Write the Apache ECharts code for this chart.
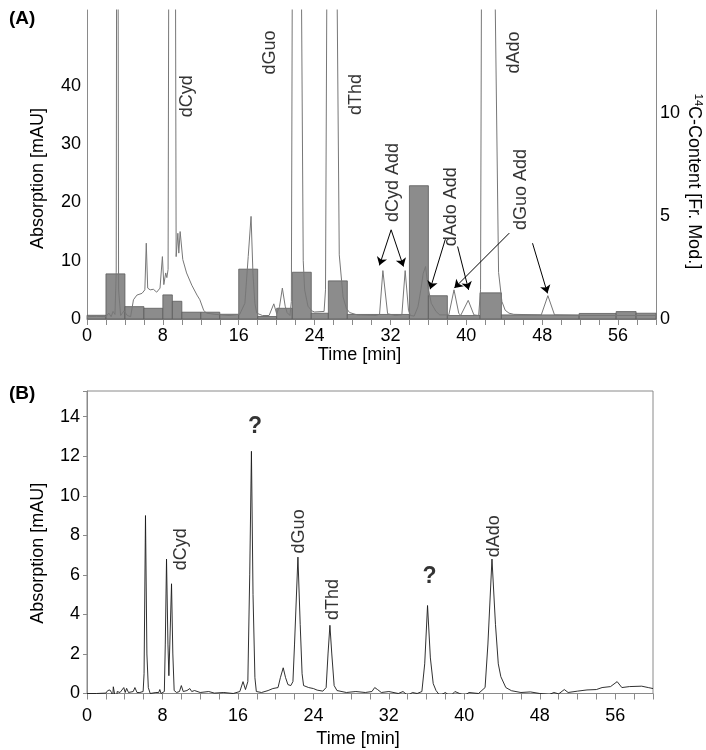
<!DOCTYPE html>
<html><head><meta charset="utf-8">
<script src="https://cdn.jsdelivr.net/npm/echarts/dist/echarts.min.js"></script>
<style>html,body{margin:0;padding:0;background:#fff}#c{width:706px;height:750px}</style>
</head><body><div id="c"></div>
<script>
// ---- Panel A: UV trace (time [min], absorption [mAU]) ----
const traceA = [[0,0.4],[1.0,0.45],[2.0,0.4],[2.3,1.0],[2.55,0.4],[2.75,1.3],[2.95,0.8],[3.08,8],[3.12,60],[3.2,200],[3.28,60],[3.33,5],[3.55,0.6],[3.9,1.4],[4.25,0.6],[4.6,0.4],[4.9,3.3],[5.26,4.1],[5.8,4.4],[6.1,5.0],[6.25,13.0],[6.4,5.3],[6.66,5.0],[7.0,5.1],[7.35,4.6],[7.7,5.3],[7.95,10.7],[8.1,5.9],[8.3,7.9],[8.42,7.1],[8.55,8.5],[8.62,60],[8.95,250],[9.33,60],[9.4,10.7],[9.58,14.7],[9.68,11.3],[9.82,15.0],[10.1,10.2],[10.5,7.9],[11.05,5.8],[11.6,4.1],[11.9,3.3],[12.3,1.5],[12.6,1.0],[13.5,0.8],[15.0,0.6],[16.1,0.8],[16.65,2.7],[17.0,10.7],[17.3,17.6],[17.5,7.8],[17.7,2.7],[17.9,1.0],[18.5,0.6],[19.2,0.6],[19.4,0.75],[19.7,2.6],[20.0,0.9],[20.3,2.1],[20.6,5.3],[20.9,2.2],[21.1,1.1],[21.4,0.6],[21.55,3],[21.65,60],[22.1,300],[22.6,60],[22.8,10],[22.95,5],[23.3,2.2],[23.7,1.4],[24.0,1.2],[25.0,1.3],[25.15,5],[25.3,60],[25.8,200],[26.35,60],[26.6,11],[27.0,3.8],[27.35,1.8],[27.7,1.1],[28.5,0.7],[30.5,0.6],[30.85,0.8],[31.2,8.3],[31.7,0.9],[32.5,0.6],[33.2,0.7],[33.55,8.3],[33.9,1.5],[34.1,0.6],[34.5,0.5],[34.9,2.1],[35.2,5.0],[35.45,7.8],[35.7,9.0],[35.95,5.6],[36.3,2.7],[36.8,1.3],[37.2,0.7],[38.15,0.7],[38.7,5.0],[39.2,1.0],[39.4,0.6],[39.6,0.8],[40.2,3.2],[40.8,0.7],[41.3,0.6],[41.5,5],[41.6,60],[42.3,300],[43.0,60],[43.4,8],[43.75,3.0],[44.1,1.5],[44.5,1.0],[45.0,0.8],[47.9,0.7],[48.6,4.0],[49.3,0.7],[52,0.6],[56,0.6],[60,0.6]];

// ---- Panel A: 14C fractions (start, end, content [Fr. Mod.]) ----
const fracStart = [0, 2, 4, 6, 8, 9, 10, 12, 14, 16, 18, 20, 21.65, 23.65, 25.45, 27.45, 34, 36, 38, 41.45, 43.7, 51.9, 55.8, 57.9];
const fracEnd   = [2, 4, 6, 8, 9, 10, 12, 14, 16, 18, 20, 21.65, 23.65, 25.45, 27.45, 34, 36, 38, 41.45, 43.7, 51.9, 55.8, 57.9, 60];
const fracC14   = [0.18, 2.19, 0.6, 0.52, 1.17, 0.86, 0.33, 0.33, 0.23, 2.42, 0.12, 0.52, 2.27, 0.28, 1.85, 0.22, 6.47, 1.13, 0.17, 1.27, 0.2, 0.27, 0.36, 0.28];

// ---- Panel A annotations ----
const labelsA = ['dCyd', 'dGuo', 'dThd', 'dAdo', 'dCyd Add', 'dAdo Add', 'dGuo Add'];
const labelsAx = [10.53, 19.26, 28.39, 45.05, 32.24, 38.39, 45.76];
const labelsAy = [38.2, 45.7, 38.5, 45.7, 23.4, 19.25, 22.2];
const arrowsA = [[32.07,15.3,30.84,9.2],[32.07,15.3,33.37,9.0],[37.79,13.7,36.18,5.1],[39.08,12.43,40.24,5.0],[44.53,14.73,38.74,5.3],[46.98,13.0,48.56,4.4]];

// ---- Panel B: UV trace ----
const traceB = [[0,0],[1,0],[2,0.02],[2.2,0.15],[2.43,0.18],[2.6,0.05],[2.72,-0.26],[2.79,0.34],[2.96,0.3],[3.1,-0.5],[3.2,0.1],[3.5,0.05],[3.9,0.3],[4.05,0.05],[4.2,0.26],[4.4,0.05],[4.9,0.1],[5.08,0.3],[5.3,0.05],[5.6,0.05],[5.95,0.1],[6.05,1.0],[6.2,9.0],[6.35,2.0],[6.5,0.3],[6.7,0.0],[7.3,0.05],[7.6,0.05],[7.72,0.2],[7.85,0.0],[8.2,0.1],[8.3,2.5],[8.43,6.8],[8.58,2.5],[8.68,0.9],[8.78,2.5],[8.96,5.55],[9.1,2.0],[9.24,0.15],[9.5,0.05],[9.8,0.1],[10.0,0.4],[10.2,0.1],[10.6,0.15],[10.9,0.25],[11.1,0.1],[11.4,0.15],[12,0.05],[12.9,0.1],[13.5,0.02],[14.5,0.05],[15.5,0.0],[16.2,0.1],[16.54,0.6],[16.8,0.2],[17.05,0.6],[17.25,6],[17.43,12.25],[17.6,5],[17.8,0.8],[17.95,0.1],[18.5,0.05],[19.2,0.15],[19.7,0.25],[20.25,0.3],[20.5,0.8],[20.8,1.3],[21.05,0.8],[21.3,0.45],[21.6,0.4],[21.83,0.6],[22.0,2.5],[22.36,6.9],[22.6,3.5],[22.8,1.0],[22.96,0.4],[23.5,0.3],[24.0,0.25],[24.4,0.17],[25.0,0.12],[25.35,0.3],[25.55,2.0],[25.75,3.45],[25.95,2.0],[26.2,0.4],[26.5,0.15],[27.5,0.05],[28.5,0.1],[29.5,0.05],[30.2,0.1],[30.5,0.3],[30.8,0.2],[31.2,0.05],[32,0.1],[33,0.0],[33.5,0.1],[34.0,-0.1],[34.5,0.05],[35.0,0.0],[35.5,0.1],[35.8,1.5],[36.1,4.45],[36.4,1.8],[36.7,0.5],[37.0,0.15],[37.4,-0.1],[38,0.05],[38.5,-0.15],[39,0.1],[39.5,0.0],[40,-0.1],[40.5,0.05],[41.5,0.0],[42.2,0.3],[42.5,2.5],[42.93,6.8],[43.3,3.5],[43.6,1.5],[43.87,0.85],[44.4,0.3],[45.0,0.14],[46,0.05],[47,0.08],[48,0.0],[49,-0.05],[49.5,0.05],[50.0,-0.02],[50.6,0.2],[51.0,0.05],[52,0.12],[53,0.18],[54,0.2],[54.6,0.3],[55.5,0.35],[56.2,0.6],[56.7,0.3],[57.5,0.35],[58.8,0.37],[59.5,0.3],[60,0.25]];

const labelsB = ['dCyd', 'dGuo', 'dThd', 'dAdo'];
const labelsBx = [10.0, 22.5, 26.06, 43.17];
const labelsBy = [7.3, 8.2, 4.75, 7.95];
const unknownBx = [17.8, 36.3];
const unknownBy = [13.5, 5.9];

// ---- Axis ticks ----
const xLabelTicks = [0, 8, 16, 24, 32, 40, 48, 56];
const yATicks = [0, 10, 20, 30, 40];
const yA2Ticks = [0, 5, 10];
const yBTicks = [0, 2, 4, 6, 8, 10, 12, 14];

const FONT = 'Liberation Sans, Arial, sans-serif';
const axisGray = '#8a8a8a';
const FS = 18;

function xAxisCfg(gridIndex, labelMargin, nameGap) {
  return {
    type: 'value', gridIndex: gridIndex, min: 0, max: 60, interval: 2,
    axisLine: {show: true, lineStyle: {color: axisGray, width: 1}},
    axisTick: {show: true, length: 6, lineStyle: {color: axisGray}},
    splitLine: {show: false},
    axisLabel: {margin: labelMargin, fontSize: FS, color: '#000', fontFamily: FONT,
      formatter: v => xLabelTicks.indexOf(v) >= 0 ? String(v) : ''},
    name: 'Time [min]', nameLocation: 'middle', nameGap: nameGap, nameMoveOverlap: false,
    nameTextStyle: {fontSize: FS, color: '#000', fontFamily: FONT, padding: [0, 24, 0, 0]}
  };
}

const rotLabel = {show: true, position: 'inside', rotate: 90, align: 'center', verticalAlign: 'middle',
  formatter: '{b}', fontSize: FS, color: '#000', fontFamily: FONT};

const chart = echarts.init(document.getElementById('c'), null, {renderer: 'canvas'});
chart.setOption({
  animation: false,
  backgroundColor: '#fff',
  title: [
    {text: '(A)', left: 4, top: 4, textStyle: {fontSize: 19, fontWeight: 'bold', color: '#000', fontFamily: FONT}},
    {text: '(B)', left: 4, top: 379, textStyle: {fontSize: 19, fontWeight: 'bold', color: '#000', fontFamily: FONT}}
  ],
  grid: [
    {left: 87, top: 10, width: 569, height: 309, show: false, containLabel: false, outerBoundsMode: 'none'},
    {left: 87, top: 391, width: 566, height: 302.5, show: true, borderColor: axisGray, borderWidth: 1,
      backgroundColor: 'transparent', containLabel: false, outerBoundsMode: 'none'}
  ],
  xAxis: [xAxisCfg(0, 8, 27), xAxisCfg(1, 14, 37)],
  yAxis: [
    {type: 'value', gridIndex: 0, min: 0, max: 53, interval: 10, position: 'left',
      axisLine: {show: true, lineStyle: {color: axisGray}},
      axisTick: {show: false}, splitLine: {show: false},
      axisLabel: {margin: 6, fontSize: FS, color: '#000', fontFamily: FONT,
        formatter: v => yATicks.indexOf(v) >= 0 ? String(v) : ''},
      name: 'Absorption [mAU]', nameLocation: 'middle', nameGap: 40,
      nameTextStyle: {fontSize: FS, color: '#000', fontFamily: FONT, padding: [0, 28, 0, 0]}},
    {type: 'value', gridIndex: 0, min: 0, max: 15, interval: 5, position: 'right',
      axisLine: {show: true, lineStyle: {color: axisGray}},
      axisTick: {show: false}, splitLine: {show: false},
      axisLabel: {margin: 4, fontSize: FS, color: '#000', fontFamily: FONT,
        formatter: v => yA2Ticks.indexOf(v) >= 0 ? String(v) : ''},
      name: '{sup|14}{n|C-Content [Fr. Mod.]}', nameLocation: 'middle', nameGap: 28, nameRotate: -90,
      nameMoveOverlap: false,
      nameTextStyle: {fontFamily: FONT, color: '#000', padding: [0, 0, 0, 34],
        rich: {sup: {fontSize: 11, verticalAlign: 'top', lineHeight: 20, fontFamily: FONT, color: '#000'},
               n: {fontSize: FS, lineHeight: 20, fontFamily: FONT, color: '#000'}}}},
    {type: 'value', gridIndex: 1, min: 0, max: 15.3, interval: 2, position: 'left',
      axisLine: {show: true, lineStyle: {color: axisGray}},
      axisTick: {show: true, length: 4, lineStyle: {color: axisGray}}, splitLine: {show: false},
      axisLabel: {margin: 7, fontSize: FS, color: '#000', fontFamily: FONT,
        formatter: v => yBTicks.indexOf(v) >= 0 ? String(v) : ''},
      name: 'Absorption [mAU]', nameLocation: 'middle', nameGap: 40,
      nameTextStyle: {fontSize: FS, color: '#000', fontFamily: FONT, padding: [0, 22, 0, 0]}}
  ],
  series: [
    {
      type: 'custom', xAxisIndex: 0, yAxisIndex: 1, z: 1, silent: true,
      data: fracStart.map((s, i) => [s, fracEnd[i], fracC14[i]]),
      encode: {x: [0, 1], y: 2},
      renderItem: function (params, api) {
        const p0 = api.coord([api.value(0), 0]);
        const p1 = api.coord([api.value(1), api.value(2)]);
        return {type: 'rect', shape: {x: p0[0], y: p1[1], width: p1[0] - p0[0], height: p0[1] - p1[1]},
          style: {fill: '#8c8c8c', stroke: '#5a5a5a', lineWidth: 0.8}};
      }
    },
    {
      type: 'line', xAxisIndex: 0, yAxisIndex: 0, z: 3, silent: true, clip: true,
      showSymbol: false, symbol: 'none', data: traceA,
      lineStyle: {color: '#777', width: 1},
      markLine: {
        silent: true, symbol: ['none', 'arrow'], symbolSize: 8,
        lineStyle: {color: '#000', width: 1, type: 'solid'},
        label: {show: false}, emphasis: {disabled: true},
        data: arrowsA.map(a => [{coord: [a[0], a[1]]}, {coord: [a[2], a[3]]}])
      }
    },
    {
      type: 'scatter', xAxisIndex: 0, yAxisIndex: 0, z: 5, silent: true, symbolSize: 0,
      data: labelsA.map((n, i) => ({name: n, value: [labelsAx[i], labelsAy[i]]})),
      label: rotLabel
    },
    {
      type: 'line', xAxisIndex: 1, yAxisIndex: 2, z: 3, silent: true, clip: true,
      showSymbol: false, symbol: 'none', data: traceB,
      lineStyle: {color: '#1a1a1a', width: 0.9}
    },
    {
      type: 'scatter', xAxisIndex: 1, yAxisIndex: 2, z: 5, silent: true, symbolSize: 0,
      data: labelsB.map((n, i) => ({name: n, value: [labelsBx[i], labelsBy[i]]})),
      label: rotLabel
    },
    {
      type: 'scatter', xAxisIndex: 1, yAxisIndex: 2, z: 5, silent: true, symbolSize: 0,
      data: unknownBx.map((x, i) => ({name: '?', value: [x, unknownBy[i]]})),
      label: {show: true, position: 'inside', align: 'center', verticalAlign: 'middle', formatter: '{b}', fontSize: 23, fontWeight: 'bold', color: '#000', fontFamily: FONT}
    }
  ]
});
</script></body></html>
